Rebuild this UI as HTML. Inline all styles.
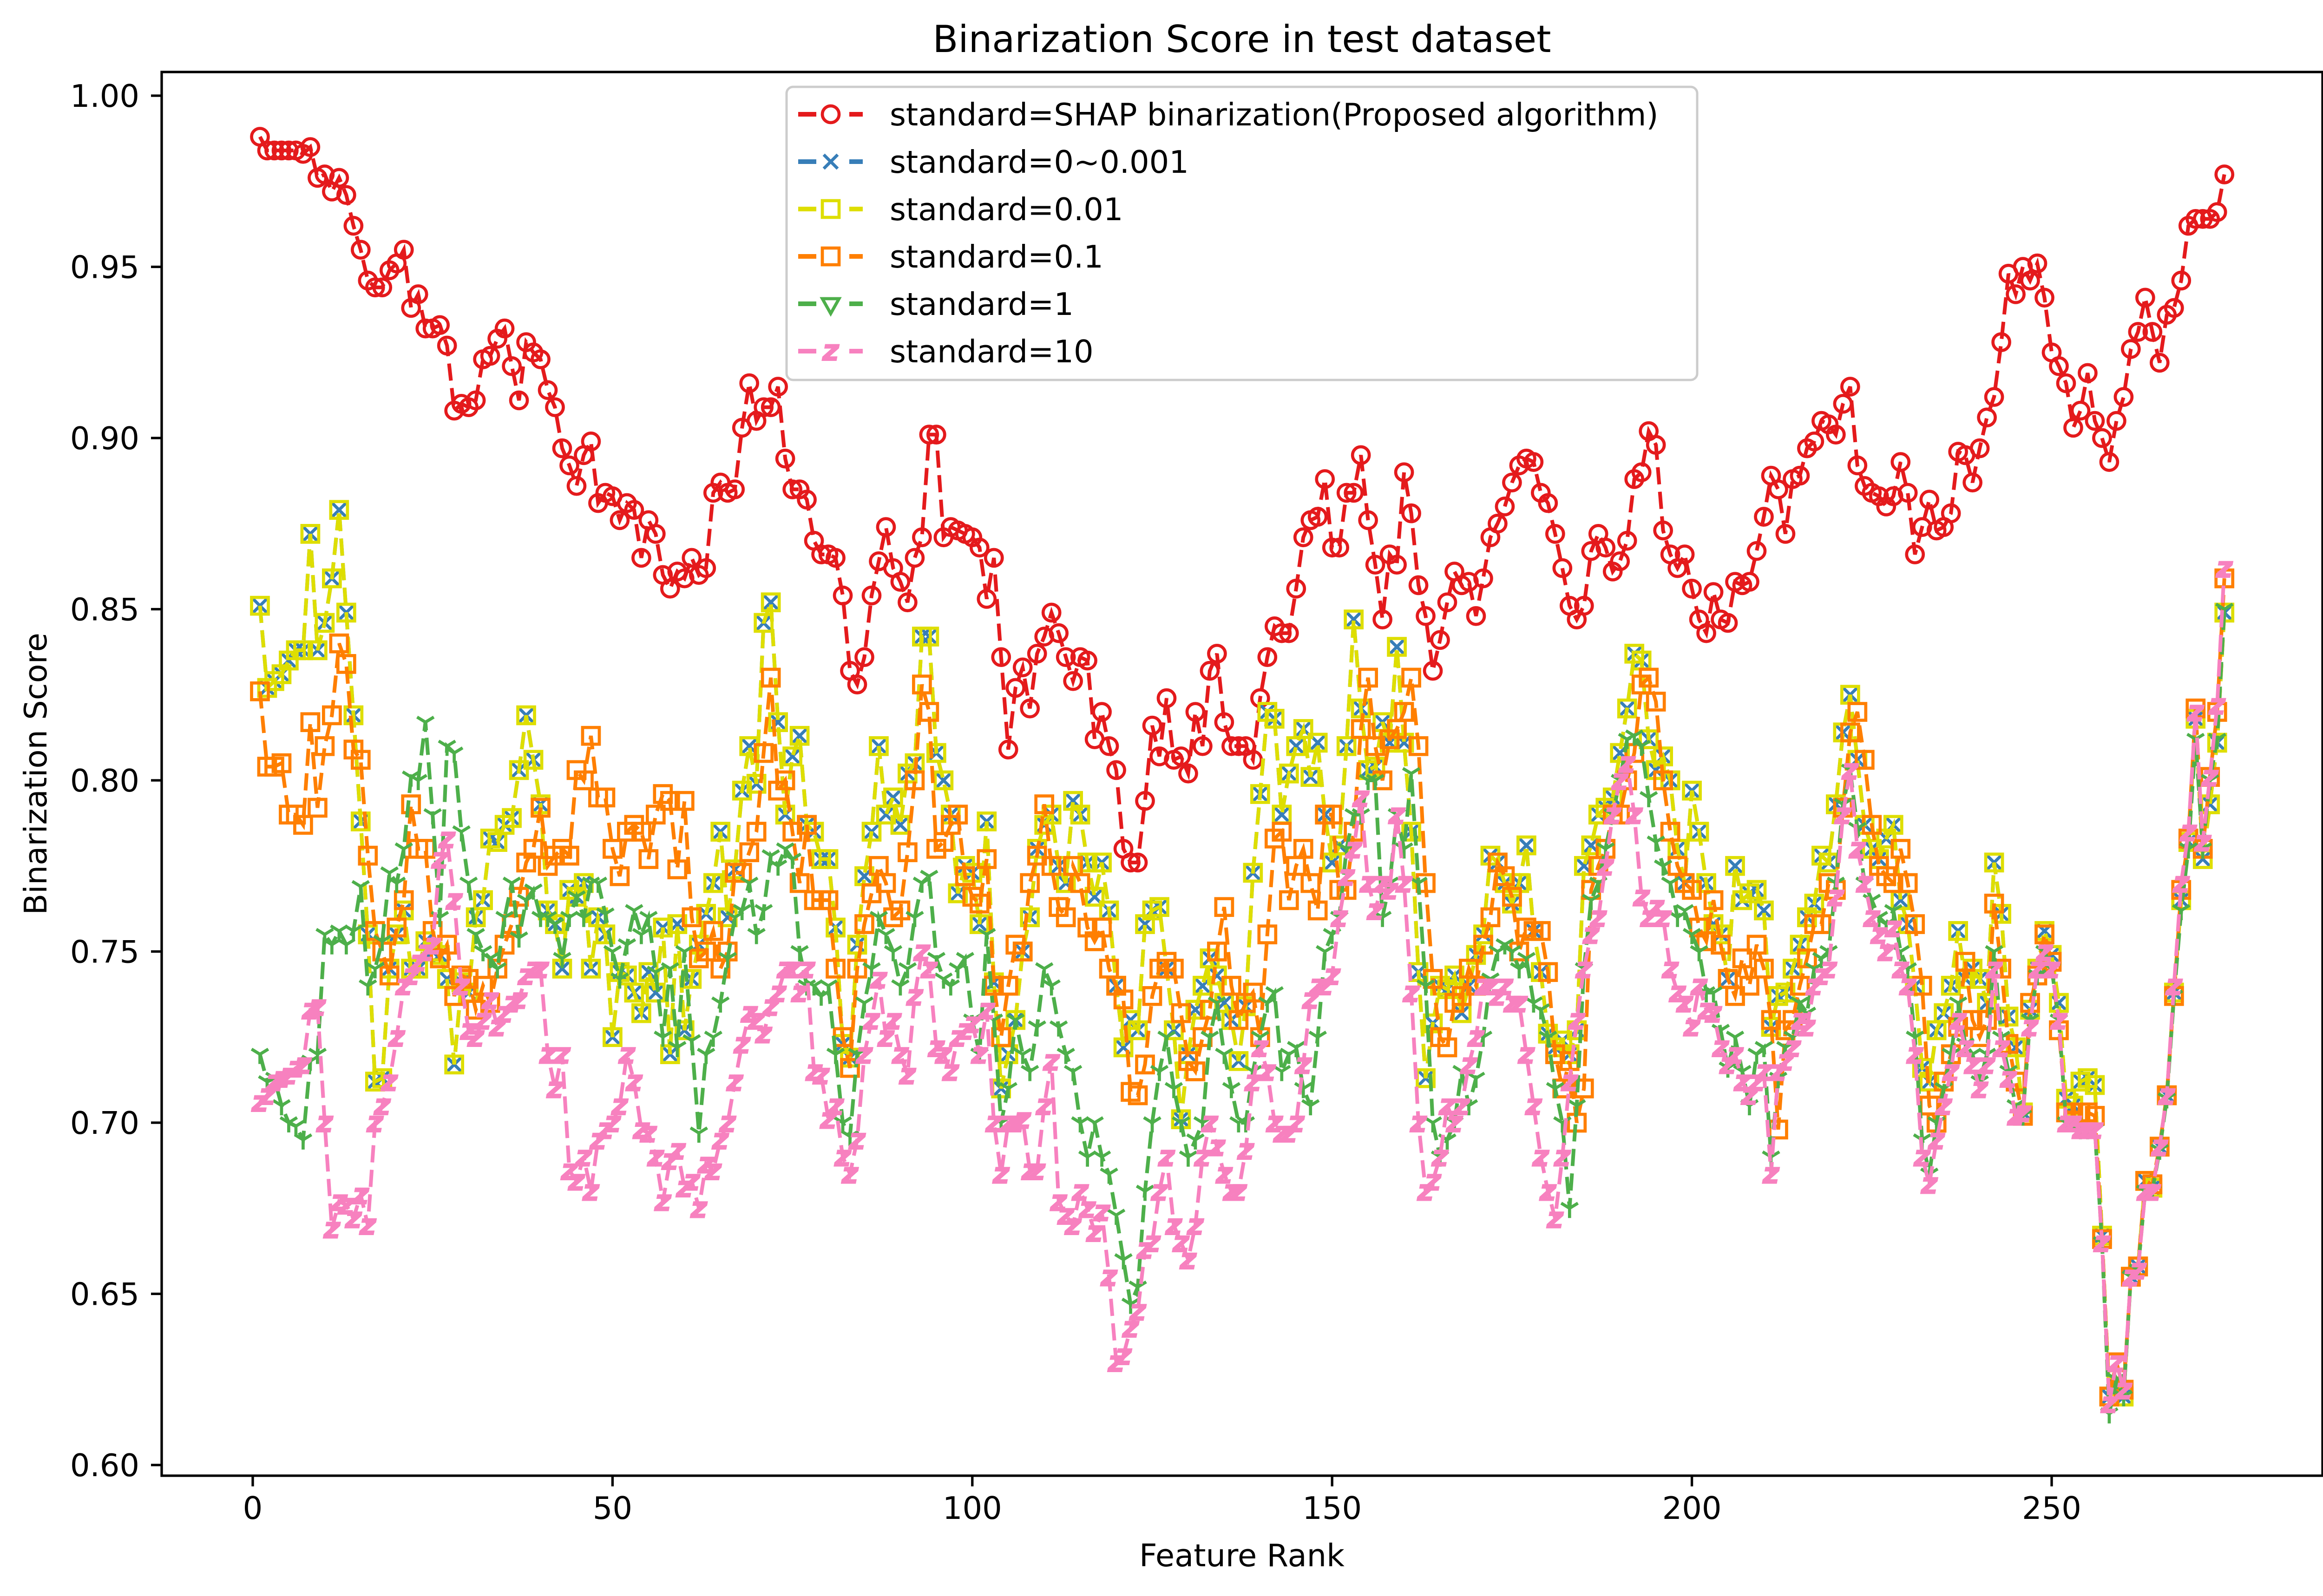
<!DOCTYPE html>
<html><head><meta charset="utf-8"><style>
html,body{margin:0;padding:0;background:#fff}
svg{display:block}
text{font-family:"DejaVu Sans","Liberation Sans",sans-serif;fill:#000}
</style></head><body>
<svg id="chart" xmlns="http://www.w3.org/2000/svg" width="5047" height="3436" viewBox="0 0 5047 3436">
<rect x="0" y="0" width="5047" height="3436" fill="#fff"/>
<text x="2673" y="112" font-size="80" text-anchor="middle">Binarization Score in test dataset</text>
<text x="2673" y="3372" font-size="67" text-anchor="middle">Feature Rank</text>
<text x="100" y="1666" font-size="67" text-anchor="middle" transform="rotate(-90 100 1666)">Binarization Score</text>
<g id="xticks"></g>
<g id="yticks"></g>
<defs><clipPath id="clip"><rect x="348" y="155" width="4651" height="3022"/></clipPath></defs>
<g id="series" clip-path="url(#clip)"></g>
<rect x="348" y="155" width="4651" height="3022" fill="none" stroke="#000" stroke-width="5.3"/>
<g id="legend"></g>
</svg>
<script>
const xTicks = [0, 50, 100, 150, 200, 250];
const yTicks = [0.60, 0.65, 0.70, 0.75, 0.80, 0.85, 0.90, 0.95, 1.00];
const seriesNames = ["standard=SHAP binarization(Proposed algorithm)","standard=0~0.001","standard=0.01","standard=0.1","standard=1","standard=10"];
const redVals = [0.988,0.984,0.984,0.984,0.984,0.984,0.983,0.985,0.976,0.977,0.972,0.976,0.971,0.962,0.955,0.946,0.944,0.944,0.949,0.951,0.955,0.938,0.942,0.932,0.932,0.933,0.927,0.908,0.910,0.909,0.911,0.923,0.924,0.929,0.932,0.921,0.911,0.928,0.925,0.923,0.914,0.909,0.897,0.892,0.886,0.895,0.899,0.881,0.884,0.883,0.876,0.881,0.879,0.865,0.876,0.872,0.860,0.856,0.861,0.859,0.865,0.860,0.862,0.884,0.887,0.884,0.885,0.903,0.916,0.905,0.909,0.909,0.915,0.894,0.885,0.885,0.882,0.870,0.866,0.866,0.865,0.854,0.832,0.828,0.836,0.854,0.864,0.874,0.862,0.858,0.852,0.865,0.871,0.901,0.901,0.871,0.874,0.873,0.872,0.871,0.868,0.853,0.865,0.836,0.809,0.827,0.833,0.821,0.837,0.842,0.849,0.843,0.836,0.829,0.836,0.835,0.812,0.820,0.810,0.803,0.780,0.776,0.776,0.794,0.816,0.807,0.824,0.806,0.807,0.802,0.820,0.810,0.832,0.837,0.817,0.810,0.810,0.810,0.806,0.824,0.836,0.845,0.843,0.843,0.856,0.871,0.876,0.877,0.888,0.868,0.868,0.884,0.884,0.895,0.876,0.863,0.847,0.866,0.863,0.890,0.878,0.857,0.848,0.832,0.841,0.852,0.861,0.857,0.858,0.848,0.859,0.871,0.875,0.880,0.887,0.892,0.894,0.893,0.884,0.881,0.872,0.862,0.851,0.847,0.851,0.867,0.872,0.868,0.861,0.864,0.870,0.888,0.890,0.902,0.898,0.873,0.866,0.862,0.866,0.856,0.847,0.843,0.855,0.847,0.846,0.858,0.857,0.858,0.867,0.877,0.889,0.885,0.872,0.888,0.889,0.897,0.899,0.905,0.904,0.901,0.910,0.915,0.892,0.886,0.884,0.883,0.880,0.883,0.893,0.884,0.866,0.874,0.882,0.873,0.874,0.878,0.896,0.895,0.887,0.897,0.906,0.912,0.928,0.948,0.942,0.950,0.946,0.951,0.941,0.925,0.921,0.916,0.903,0.908,0.919,0.905,0.900,0.893,0.905,0.912,0.926,0.931,0.941,0.931,0.922,0.936,0.938,0.946,0.962,0.964,0.964,0.964,0.966,0.977];
const yellowVals = [0.851,0.827,0.829,0.831,0.835,0.838,0.838,0.872,0.838,0.846,0.859,0.879,0.849,0.819,0.788,0.755,0.712,0.713,0.745,0.755,0.762,0.745,0.745,0.753,0.750,0.749,0.742,0.717,0.741,0.738,0.760,0.765,0.783,0.782,0.787,0.789,0.803,0.819,0.806,0.793,0.762,0.758,0.745,0.768,0.766,0.770,0.745,0.760,0.755,0.725,0.744,0.743,0.738,0.732,0.744,0.738,0.757,0.720,0.758,0.727,0.742,0.752,0.761,0.770,0.785,0.760,0.774,0.797,0.810,0.799,0.846,0.852,0.817,0.790,0.807,0.813,0.787,0.785,0.777,0.777,0.757,0.723,0.719,0.752,0.772,0.785,0.810,0.790,0.795,0.787,0.802,0.805,0.842,0.842,0.808,0.800,0.790,0.767,0.775,0.773,0.758,0.788,0.741,0.710,0.720,0.730,0.750,0.760,0.780,0.787,0.790,0.775,0.770,0.794,0.790,0.776,0.766,0.776,0.762,0.740,0.722,0.730,0.727,0.758,0.762,0.763,0.745,0.727,0.701,0.720,0.733,0.740,0.748,0.743,0.735,0.730,0.718,0.734,0.773,0.796,0.820,0.818,0.790,0.802,0.810,0.815,0.801,0.811,0.790,0.776,0.781,0.810,0.847,0.821,0.803,0.804,0.817,0.811,0.839,0.811,0.785,0.744,0.713,0.729,0.740,0.739,0.743,0.732,0.740,0.749,0.755,0.778,0.776,0.770,0.764,0.770,0.781,0.756,0.744,0.726,0.722,0.724,0.720,0.727,0.775,0.781,0.790,0.792,0.795,0.808,0.821,0.837,0.835,0.812,0.803,0.807,0.800,0.780,0.770,0.797,0.785,0.770,0.758,0.755,0.742,0.775,0.765,0.767,0.768,0.762,0.728,0.737,0.738,0.745,0.752,0.760,0.764,0.778,0.776,0.793,0.814,0.825,0.806,0.787,0.780,0.777,0.783,0.787,0.765,0.758,0.740,0.716,0.712,0.727,0.732,0.740,0.756,0.742,0.745,0.742,0.735,0.776,0.761,0.731,0.722,0.703,0.733,0.745,0.756,0.749,0.735,0.707,0.705,0.712,0.713,0.711,0.667,0.620,0.623,0.620,0.655,0.658,0.683,0.681,0.693,0.708,0.738,0.765,0.782,0.818,0.777,0.793,0.811,0.849];
const blueVals = [0.851,0.827,0.829,0.831,0.835,0.838,0.838,0.872,0.838,0.846,0.859,0.879,0.849,0.819,0.788,0.755,0.712,0.713,0.745,0.755,0.762,0.745,0.745,0.753,0.750,0.749,0.742,0.717,0.741,0.738,0.760,0.765,0.783,0.782,0.787,0.789,0.803,0.819,0.806,0.793,0.762,0.758,0.745,0.768,0.766,0.770,0.745,0.760,0.755,0.725,0.744,0.743,0.738,0.732,0.744,0.738,0.757,0.720,0.758,0.727,0.742,0.752,0.761,0.770,0.785,0.760,0.774,0.797,0.810,0.799,0.846,0.852,0.817,0.790,0.807,0.813,0.787,0.785,0.777,0.777,0.757,0.723,0.719,0.752,0.772,0.785,0.810,0.790,0.795,0.787,0.802,0.805,0.842,0.842,0.808,0.800,0.790,0.767,0.775,0.773,0.758,0.788,0.741,0.710,0.720,0.730,0.750,0.760,0.780,0.787,0.790,0.775,0.770,0.794,0.790,0.776,0.766,0.776,0.762,0.740,0.722,0.730,0.727,0.758,0.762,0.763,0.745,0.727,0.701,0.720,0.733,0.740,0.748,0.743,0.735,0.730,0.718,0.734,0.773,0.796,0.820,0.818,0.790,0.802,0.810,0.815,0.801,0.811,0.790,0.776,0.781,0.810,0.847,0.821,0.803,0.804,0.817,0.811,0.839,0.811,0.785,0.744,0.713,0.729,0.740,0.739,0.743,0.732,0.740,0.749,0.755,0.778,0.776,0.770,0.764,0.770,0.781,0.756,0.744,0.726,0.722,0.724,0.720,0.727,0.775,0.781,0.790,0.792,0.795,0.808,0.821,0.837,0.835,0.812,0.803,0.807,0.800,0.780,0.770,0.797,0.785,0.770,0.758,0.755,0.742,0.775,0.765,0.767,0.768,0.762,0.728,0.737,0.738,0.745,0.752,0.760,0.764,0.778,0.776,0.793,0.814,0.825,0.806,0.787,0.780,0.777,0.783,0.787,0.765,0.758,0.740,0.716,0.712,0.727,0.732,0.740,0.756,0.742,0.745,0.742,0.735,0.776,0.761,0.731,0.722,0.703,0.733,0.745,0.756,0.749,0.735,0.707,0.705,0.712,0.713,0.711,0.667,0.620,0.623,0.620,0.655,0.658,0.683,0.681,0.693,0.708,0.738,0.765,0.782,0.818,0.777,0.793,0.811,0.849];
const orangeVals = [0.826,0.804,0.804,0.805,0.790,0.790,0.787,0.817,0.792,0.810,0.819,0.840,0.834,0.809,0.806,0.778,0.756,0.750,0.743,0.757,0.765,0.793,0.780,0.780,0.756,0.748,0.752,0.737,0.743,0.742,0.733,0.740,0.735,0.745,0.752,0.758,0.766,0.776,0.780,0.792,0.775,0.778,0.780,0.778,0.803,0.800,0.813,0.795,0.795,0.780,0.772,0.785,0.787,0.785,0.777,0.790,0.796,0.794,0.774,0.794,0.760,0.748,0.750,0.756,0.745,0.750,0.773,0.773,0.779,0.785,0.808,0.830,0.797,0.800,0.785,0.770,0.787,0.765,0.765,0.765,0.745,0.725,0.716,0.745,0.758,0.767,0.775,0.770,0.760,0.762,0.779,0.800,0.828,0.820,0.780,0.782,0.787,0.790,0.772,0.766,0.764,0.777,0.740,0.725,0.740,0.752,0.750,0.770,0.778,0.793,0.775,0.763,0.760,0.775,0.770,0.757,0.753,0.757,0.745,0.740,0.736,0.709,0.708,0.717,0.737,0.745,0.747,0.745,0.732,0.718,0.715,0.725,0.733,0.750,0.763,0.740,0.730,0.735,0.738,0.725,0.755,0.783,0.785,0.765,0.775,0.780,0.770,0.762,0.790,0.790,0.768,0.768,0.785,0.815,0.830,0.810,0.800,0.812,0.815,0.820,0.830,0.810,0.770,0.742,0.725,0.722,0.735,0.737,0.745,0.740,0.752,0.760,0.776,0.772,0.766,0.750,0.757,0.756,0.756,0.744,0.720,0.710,0.718,0.700,0.710,0.768,0.775,0.780,0.790,0.790,0.800,0.808,0.828,0.830,0.823,0.800,0.785,0.775,0.770,0.768,0.757,0.753,0.765,0.752,0.742,0.737,0.748,0.740,0.752,0.745,0.730,0.698,0.727,0.730,0.740,0.748,0.758,0.758,0.770,0.768,0.792,0.814,0.820,0.806,0.787,0.775,0.772,0.770,0.780,0.770,0.758,0.740,0.705,0.700,0.712,0.720,0.728,0.747,0.730,0.725,0.730,0.764,0.745,0.723,0.712,0.702,0.735,0.743,0.755,0.747,0.727,0.703,0.703,0.703,0.703,0.702,0.666,0.620,0.630,0.622,0.655,0.658,0.683,0.682,0.693,0.708,0.737,0.768,0.783,0.821,0.780,0.801,0.820,0.859];
const greenVals = [0.720,0.712,0.713,0.705,0.700,0.699,0.695,0.718,0.720,0.755,0.752,0.756,0.752,0.756,0.769,0.740,0.745,0.753,0.773,0.770,0.780,0.801,0.800,0.817,0.790,0.760,0.810,0.808,0.785,0.770,0.755,0.750,0.748,0.745,0.760,0.770,0.754,0.765,0.768,0.760,0.760,0.758,0.748,0.760,0.766,0.760,0.770,0.770,0.761,0.750,0.742,0.752,0.762,0.755,0.760,0.744,0.725,0.745,0.722,0.750,0.724,0.697,0.720,0.725,0.735,0.748,0.760,0.762,0.770,0.755,0.762,0.778,0.775,0.780,0.777,0.750,0.740,0.740,0.737,0.740,0.720,0.700,0.696,0.720,0.735,0.745,0.760,0.755,0.750,0.740,0.745,0.760,0.770,0.772,0.748,0.742,0.740,0.745,0.748,0.730,0.720,0.755,0.730,0.700,0.710,0.730,0.720,0.715,0.728,0.745,0.740,0.728,0.720,0.715,0.700,0.690,0.700,0.690,0.685,0.673,0.660,0.647,0.652,0.680,0.700,0.715,0.725,0.710,0.700,0.690,0.695,0.700,0.725,0.735,0.720,0.710,0.700,0.700,0.715,0.725,0.735,0.738,0.715,0.720,0.722,0.710,0.705,0.725,0.750,0.755,0.760,0.780,0.790,0.790,0.800,0.800,0.760,0.770,0.790,0.780,0.802,0.770,0.740,0.700,0.690,0.695,0.700,0.715,0.705,0.713,0.725,0.742,0.750,0.752,0.750,0.745,0.748,0.735,0.733,0.725,0.710,0.700,0.675,0.705,0.745,0.765,0.770,0.780,0.790,0.800,0.812,0.813,0.810,0.795,0.782,0.775,0.770,0.760,0.762,0.755,0.750,0.738,0.738,0.727,0.716,0.725,0.715,0.705,0.720,0.722,0.690,0.713,0.722,0.725,0.735,0.732,0.745,0.748,0.750,0.770,0.793,0.803,0.786,0.770,0.765,0.760,0.758,0.762,0.750,0.745,0.725,0.695,0.685,0.700,0.710,0.720,0.735,0.723,0.720,0.712,0.720,0.750,0.725,0.715,0.705,0.702,0.730,0.743,0.750,0.745,0.730,0.700,0.700,0.698,0.698,0.698,0.665,0.615,0.625,0.620,0.655,0.657,0.680,0.680,0.692,0.707,0.737,0.762,0.780,0.812,0.780,0.800,0.812,0.850];
const pinkVals = [0.706,0.708,0.712,0.713,0.714,0.716,0.717,0.733,0.734,0.700,0.669,0.677,0.676,0.672,0.679,0.670,0.700,0.705,0.712,0.725,0.740,0.743,0.747,0.750,0.752,0.777,0.783,0.765,0.740,0.727,0.725,0.730,0.736,0.728,0.732,0.735,0.736,0.743,0.745,0.745,0.720,0.710,0.720,0.686,0.683,0.690,0.680,0.695,0.698,0.700,0.705,0.720,0.712,0.698,0.697,0.690,0.677,0.689,0.692,0.681,0.683,0.675,0.688,0.686,0.695,0.700,0.712,0.723,0.732,0.730,0.726,0.734,0.738,0.745,0.745,0.738,0.745,0.715,0.714,0.701,0.705,0.690,0.685,0.695,0.720,0.730,0.742,0.725,0.730,0.720,0.714,0.737,0.750,0.745,0.722,0.720,0.715,0.725,0.727,0.729,0.720,0.733,0.700,0.685,0.700,0.700,0.701,0.686,0.686,0.705,0.718,0.677,0.673,0.670,0.680,0.675,0.668,0.674,0.655,0.630,0.632,0.640,0.645,0.663,0.665,0.680,0.690,0.670,0.665,0.660,0.670,0.690,0.700,0.693,0.685,0.680,0.680,0.692,0.712,0.722,0.715,0.700,0.697,0.697,0.700,0.717,0.736,0.740,0.740,0.743,0.760,0.772,0.780,0.795,0.770,0.762,0.770,0.768,0.790,0.770,0.738,0.700,0.680,0.683,0.690,0.705,0.700,0.705,0.717,0.725,0.740,0.740,0.737,0.740,0.735,0.735,0.720,0.705,0.690,0.680,0.672,0.690,0.712,0.730,0.745,0.755,0.760,0.775,0.790,0.800,0.805,0.790,0.766,0.760,0.763,0.760,0.745,0.738,0.735,0.728,0.740,0.733,0.732,0.722,0.717,0.720,0.712,0.708,0.712,0.715,0.685,0.715,0.718,0.722,0.730,0.728,0.740,0.743,0.745,0.766,0.790,0.803,0.780,0.770,0.760,0.755,0.750,0.757,0.745,0.740,0.720,0.690,0.682,0.695,0.705,0.715,0.730,0.722,0.717,0.710,0.717,0.745,0.722,0.713,0.702,0.703,0.728,0.745,0.750,0.745,0.730,0.700,0.700,0.698,0.698,0.698,0.665,0.618,0.630,0.622,0.655,0.657,0.680,0.680,0.693,0.708,0.740,0.770,0.785,0.820,0.782,0.801,0.822,0.862];

const NS = "http://www.w3.org/2000/svg";
function xs(v){ return 544 + (v - 0) * (4416 - 544) / 250; }
function ys(v){ return 206 + (1.00 - v) * (3154 - 206) / 0.40; }
function mk(tag, attrs, parent){ const e = document.createElementNS(NS, tag); for (const k in attrs) e.setAttribute(k, attrs[k]); parent.appendChild(e); return e; }

const xg = document.getElementById('xticks');
xTicks.forEach(t => {
  const l = mk('line', {x1: xs(t), x2: xs(t), y1: 3177, y2: 3200, stroke: '#000', 'stroke-width': 5.3}, xg);
  
  
  const tx = mk('text', {x: xs(t), y: 3270, 'font-size': 67, 'text-anchor': 'middle'}, xg);
  tx.textContent = String(t);
  
  
});
const yg = document.getElementById('yticks');
yTicks.forEach(t => {
  const l = mk('line', {x1: 325, x2: 348, y1: ys(t), y2: ys(t), stroke: '#000', 'stroke-width': 5.3}, yg);
  
  
  const tx = mk('text', {x: 300, y: ys(t) + 24, 'font-size': 67, 'text-anchor': 'end'}, yg);
  tx.textContent = t.toFixed(2);
  
  
});

const styles = [
  {vals: redVals, color: '#e41a1c', m: 'o', name: 'series-shap'},
  {vals: blueVals, color: '#377eb8', m: 'x', name: 'series-0-0001'},
  {vals: yellowVals, color: '#dede00', m: 's', name: 'series-0-01'},
  {vals: orangeVals, color: '#ff7f00', m: 's', name: 'series-0-1'},
  {vals: greenVals, color: '#4daf4a', m: 'tri', name: 'series-1'},
  {vals: pinkVals, color: '#f781bf', m: 'z', name: 'series-10'}
];

function marker(type, cx, cy, color, parent, legendMode){
  let e;
  if (type === 'o') e = mk('circle', {cx: cx, cy: cy, r: 18, fill: 'none', stroke: color, 'stroke-width': 6.7}, parent);
  else if (type === 's') e = mk('rect', {x: cx - 18, y: cy - 18, width: 36, height: 36, fill: 'none', stroke: color, 'stroke-width': 6.7}, parent);
  else if (type === 'x') e = mk('path', {d: `M${cx-15},${cy-15}L${cx+15},${cy+15}M${cx-15},${cy+15}L${cx+15},${cy-15}`, stroke: color, 'stroke-width': 6.7, fill: 'none'}, parent);
  else if (type === 'tri') {
    if (legendMode) e = mk('path', {d: `M${cx-18},${cy-11}L${cx+18},${cy-11}L${cx},${cy+21}Z`, stroke: color, 'stroke-width': 6.7, fill: 'none'}, parent);
    else e = mk('path', {d: `M${cx},${cy}L${cx},${cy+21}M${cx},${cy}L${cx-18},${cy-11}M${cx},${cy}L${cx+18},${cy-11}`, stroke: color, 'stroke-width': 6.7, fill: 'none'}, parent);
  } else {
    e = mk('text', {x: cx, y: cy + 20, 'font-size': 62, 'font-weight': 'bold', 'font-style': 'italic', 'text-anchor': 'middle', fill: color, stroke: color, 'stroke-width': 2}, parent);
    e.style.fill = color;
    e.textContent = 'z';
  }
  return e;
}

const sg = document.getElementById('series');
styles.forEach(s => {
  const g = mk('g', {}, sg);
  
  
  const d = s.vals.map((v, i) => (i ? 'L' : 'M') + xs(i + 1).toFixed(1) + ',' + ys(v).toFixed(1)).join('');
  const p = mk('path', {d: d, fill: 'none', stroke: s.color, 'stroke-width': 8, 'stroke-dasharray': '37,16'}, g);
  
  
  s.vals.forEach((v, i) => {
    const e = marker(s.m, xs(i + 1), ys(v), s.color, g, false);
    
    
  });
});

const lg = document.getElementById('legend');
const box = mk('rect', {x: 1693, y: 187, width: 1960, height: 631, rx: 14, fill: '#fff', 'fill-opacity': 0.85, stroke: '#cccccc', 'stroke-width': 5}, lg);


styles.forEach((s, i) => {
  const y = 246 + i * 102;
  const g = mk('g', {}, lg);
  
  
  mk('path', {d: `M1718,${y}L1757,${y}M1828,${y}L1857,${y}`, stroke: s.color, 'stroke-width': 10, fill: 'none'}, g);
  marker(s.m, 1788, y, s.color, g, true);
  const t = mk('text', {x: 1915, y: y + 24, 'font-size': 67}, g);
  t.textContent = seriesNames[i];
  
  
});
</script>
</body></html>
